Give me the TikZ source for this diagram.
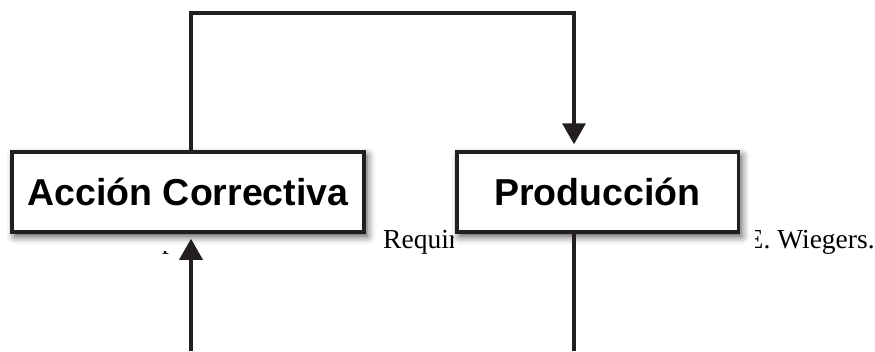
\documentclass[tikz,border=0pt]{standalone}
\usepackage{fontspec}
\setmainfont{Liberation Serif}
\newfontfamily\boxfont{Liberation Sans}
\usetikzlibrary{arrows.meta,shadows.blur,calc}
\definecolor{boxline}{HTML}{231F20}

\begin{document}
\begin{tikzpicture}[x=1pt,y=-1pt,
  box/.style={draw=boxline, fill=white, line width=3.5pt, inner sep=0pt,
    minimum height=80pt, font=\boxfont\bfseries\fontsize{37.5}{40}\selectfont,
    blur shadow={shadow xshift=3pt, shadow yshift=-4pt,
      shadow blur radius=8pt, shadow opacity=75}},
  conn/.style={draw=boxline, line width=3.5pt},
  tip/.style={-{Triangle[width=23pt,length=21pt]}},
  bodytext/.style={font=\fontsize{27.5}{31}\selectfont, inner sep=0pt,
    anchor=base west, text=black}]

\useasboundingbox (0,0) rectangle (875,351);

% running text of the page, mostly hidden behind the boxes
\begin{scope}
  \clip (150,251) rectangle (180,262);
  \node[bodytext] (fragp) at (162,248) {p};
\end{scope}
\begin{scope}
  \clip (370,222) rectangle (453,262);
  \node[bodytext] (fragreq) at (383,248) {Requir};
\end{scope}
\begin{scope}
  \clip (755,222) rectangle (875,262);
  \node[bodytext] (fragauth) at (746.5,248) {E. Wiegers.};
\end{scope}

% the two process boxes
\node[box, minimum width=352pt] (L) at (188,192) {Acción Correctiva};
\node[box, minimum width=281.5pt] (R) at (597.5,192) {Producción};

% routing points of the connectors
\coordinate (topL) at (191,13);
\coordinate (topR) at (574,13);
\coordinate (botL) at (191,351);
\coordinate (botR) at (574,351);

% feedback loop over the top
\draw[conn, tip] (L.north -| topL) -- (topL) -- (topR)
  -- ($(R.north -| topR)+(0,-6)$);
% incoming arrow into the corrective action
\draw[conn, tip] (botL) -- ($(L.south -| botL)+(0,5)$);
% outgoing line from production
\draw[conn] (R.south -| botR) -- (botR);
\end{tikzpicture}
\end{document}
